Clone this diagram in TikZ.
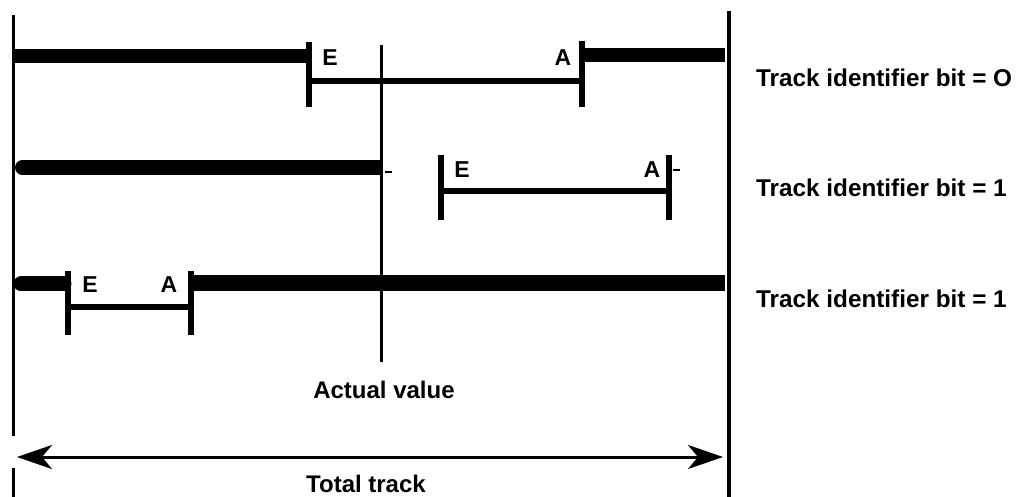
\documentclass[tikz,border=0pt]{standalone}
\usepackage{fontspec}
\setmainfont{Liberation Sans}
\usetikzlibrary{arrows.meta}
\begin{document}
\begin{tikzpicture}[x=1pt,y=-1pt,
  bar/.style={line width=14pt},
  rbar/.style={line width=15pt,line cap=round},
  tick/.style={line width=6pt},
  span/.style={line width=6pt},
  frame/.style={line width=3pt},
  dashmark/.style={line width=2.5pt},
  bothtips/.style={line width=3pt,
    {Stealth[length=35pt,width=24pt,inset=10pt]}-{Stealth[length=35pt,width=24pt,inset=10pt]}},
  letter/.style={font=\fontsize{23}{23}\selectfont\bfseries,anchor=base,inner sep=0pt},
  label/.style={font=\fontsize{24}{24}\selectfont\bfseries,inner sep=0pt},
  sidelabel/.style={font=\fontsize{24.3}{25}\selectfont\bfseries,inner sep=0pt,anchor=base west}]
\useasboundingbox (0,0) rectangle (1018,497);

% frame lines
\coordinate (L1) at (13,15);   \coordinate (L2) at (13,436);
\coordinate (L3) at (13,468);  \coordinate (L4) at (13,497);
\coordinate (R1) at (729,11);  \coordinate (R2) at (729,497);
\coordinate (M1) at (381,45);  \coordinate (M2) at (381,362);
\draw[frame] (L1) -- (L2);
\draw[frame] (L3) -- (L4);
\draw[line width=4pt] (R1) -- (R2);
\draw[frame] (M1) -- (M2);

% row 1
\coordinate (a1) at (15,56.5);  \coordinate (a2) at (307,56.5);
\coordinate (e1t) at (309,42);  \coordinate (e1b) at (309,107);
\coordinate (A1t) at (582,41);  \coordinate (A1b) at (582,107);
\coordinate (s1a) at (309,81);  \coordinate (s1b) at (582,81);
\coordinate (b1) at (585,55.5); \coordinate (b2) at (725,55.5);
\draw[bar] (a1) -- (a2);
\draw[bar] (b1) -- (b2);
\draw[tick] (e1t) -- (e1b);
\draw[tick] (A1t) -- (A1b);
\draw[span] (s1a) -- (s1b);
\node[letter] (E1) at (330,66) {E};
\node[letter] (A1) at (563,66) {A};

% row 2
\coordinate (c1) at (22.5,167.5); \coordinate (c2) at (373,167.5);
\coordinate (c3) at (380,167.5);
\coordinate (e2t) at (441,155);   \coordinate (e2b) at (441,220);
\coordinate (A2t) at (669,155);   \coordinate (A2b) at (669,220);
\coordinate (s2a) at (441,191);   \coordinate (s2b) at (669,191);
\draw[rbar] (c1) -- (c2);
\draw[line width=15pt] (c2) -- (c3);
\draw[tick] (e2t) -- (e2b);
\draw[tick] (A2t) -- (A2b);
\draw[span] (s2a) -- (s2b);
\draw[dashmark] (385,172) -- (392,172);
\draw[dashmark] (673,170) -- (680,170);
\node[letter] (E2) at (462,178) {E};
\node[letter] (A2) at (652,178) {A};

% row 3
\coordinate (d1) at (21,284);   \coordinate (d2) at (64,284);
\coordinate (e3t) at (68,271);  \coordinate (e3b) at (68,335);
\coordinate (A3t) at (191,271); \coordinate (A3b) at (191,335);
\coordinate (s3a) at (68,307);  \coordinate (s3b) at (191,307);
\coordinate (f1) at (194,283.5);\coordinate (f2) at (725,283.5);
\draw[rbar] (d1) -- (d2);
\draw[line width=16pt] (f1) -- (f2);
\draw[tick] (e3t) -- (e3b);
\draw[tick] (A3t) -- (A3b);
\draw[span] (s3a) -- (s3b);
\node[letter] (E3) at (90,293) {E};
\node[letter] (A3) at (169,293) {A};

% labels
\node[sidelabel] (t1) at (756,87) {Track identifier bit = O};
\node[sidelabel] (t2) at (756,197) {Track identifier bit = 1};
\node[sidelabel] (t3) at (756,308) {Track identifier bit = 1};
\node[label,anchor=base] (av) at (384,398) {Actual value};

% total track arrow
\coordinate (tl) at (17,457);
\coordinate (tr) at (723,457);
\draw[bothtips] (tl) -- (tr);
\node[label,anchor=base] (tt) at (366,492) {Total track};
\end{tikzpicture}
\end{document}
